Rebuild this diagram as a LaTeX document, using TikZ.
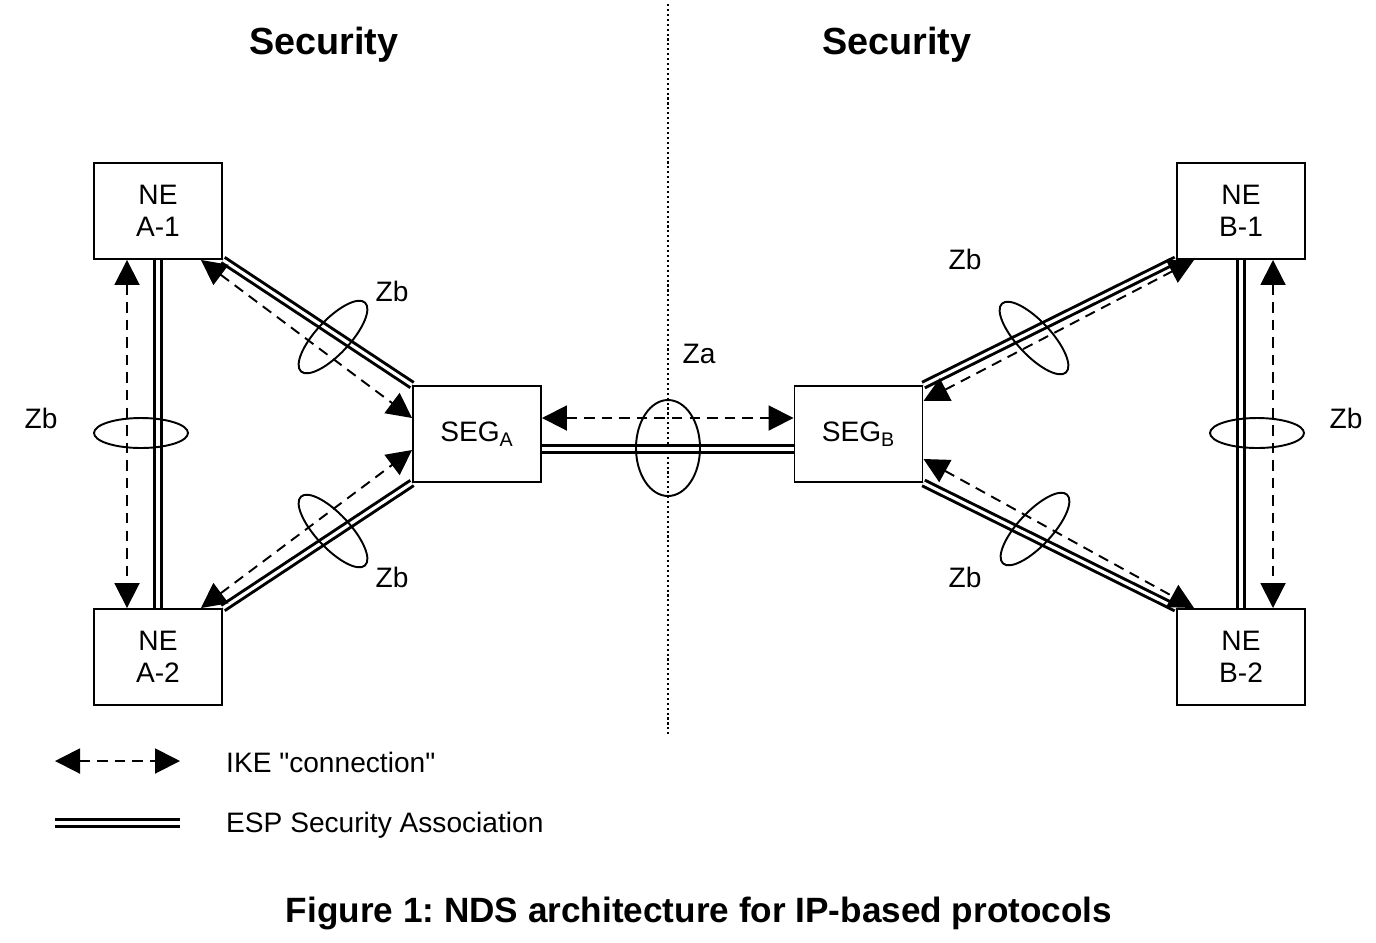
\documentclass[tikz,border=0pt]{standalone}
\usepackage{fontspec}
\setmainfont{Liberation Sans}
\usepackage{tikz}
\usetikzlibrary{arrows.meta, calc}
\frenchspacing

\tikzset{
    box/.style={draw, line width=1.1pt, minimum width=2.56cm, minimum height=1.92cm, align=center, font=\fontsize{16}{18.5}\selectfont},
    ike/.style={line width=1.1pt, dash pattern=on 6pt off 4pt, {Triangle[length=0.5cm, width=0.5cm]}-{Triangle[length=0.5cm, width=0.5cm]}},
    esp/.style={double, line width=1.7pt, double distance=1.8pt},
    ring/.style={line width=1.1pt},
    lbl/.style={font=\fontsize{16}{18.5}\selectfont},
    head/.style={font=\fontsize{21.5}{25}\bfseries\selectfont}
}

\begin{document}
\begin{tikzpicture}
    \useasboundingbox (0,0) rectangle (27.52,-18.84);
    % Domain border
    \draw [line width=1pt, dash pattern=on 1.2pt off 1.6pt] (13.36,-0.08) -- (13.36,-14.70);
    \node[head] (secA) at (6.48,-0.90) {Security};
    \node[head] (secB) at (17.94,-0.90) {Security};
    % Network elements and gateways
    \node[box] (a1) at (3.16,-4.22) {NE\\A-1};
    \node[box] (a2) at (3.16,-13.14) {NE\\A-2};
    \node[box] (sega) at (9.54,-8.68) {SEG\textsubscript{A}};
    \node[box] (segb) at (17.17,-8.68) {SEG\textsubscript{B}};
    \node[box] (b1) at (24.82,-4.22) {NE\\B-1};
    \node[box] (b2) at (24.82,-13.14) {NE\\B-2};
    % ESP security associations
    \draw [esp] (a1.south) -- (a2.north);
    \draw [esp] (a1.south east) -- (sega.north west);
    \draw [esp] (a2.north east) -- (sega.south west);
    \draw [esp] ([yshift=-0.3cm]sega.east) -- ([yshift=-0.3cm]segb.west);
    \draw [esp] (segb.north east) -- (b1.south west);
    \draw [esp] (segb.south east) -- (b2.north west);
    \draw [esp] (b1.south) -- (b2.north);
    % IKE connections
    \draw [ike] ([xshift=-0.62cm]a1.south) -- ([xshift=-0.62cm]a2.north);
    \draw [ike] ([xshift=-0.44cm]a1.south east) -- ([yshift=0.32cm]sega.west);
    \draw [ike] ([xshift=-0.44cm]a2.north east) -- ([yshift=-0.32cm]sega.west);
    \draw [ike] ([yshift=0.32cm]sega.east) -- ([yshift=0.32cm]segb.west);
    \draw [ike] ([yshift=0.66cm]segb.east) -- ([xshift=0.36cm]b1.south west);
    \draw [ike] ([yshift=-0.5cm]segb.east) -- ([xshift=0.36cm]b2.north west);
    \draw [ike] ([xshift=0.64cm]b1.south) -- ([xshift=0.64cm]b2.north);
    % Interface rings
    \draw [ring] (2.82,-8.66) ellipse (0.94 and 0.30);
    \draw [ring, shift={(6.66,-6.74)}, rotate=47] (0,0) ellipse (0.94 and 0.34);
    \draw [ring, shift={(6.66,-10.62)}, rotate=-47] (0,0) ellipse (0.94 and 0.34);
    \draw [ring] (13.36,-8.96) ellipse (0.64 and 0.96);
    \draw [ring, shift={(20.68,-6.76)}, rotate=-47] (0,0) ellipse (0.94 and 0.34);
    \draw [ring, shift={(20.70,-10.58)}, rotate=47] (0,0) ellipse (0.94 and 0.34);
    \draw [ring] (25.14,-8.66) ellipse (0.94 and 0.30);
    \node[lbl] (zbA) at (0.82,-8.36) {Zb};
    \node[lbl] (zbA1) at (7.84,-5.82) {Zb};
    \node[lbl] (zbA2) at (7.84,-11.54) {Zb};
    \node[lbl] (za) at (13.98,-7.08) {Za};
    \node[lbl] (zbB1) at (19.30,-5.18) {Zb};
    \node[lbl] (zbB2) at (19.30,-11.54) {Zb};
    \node[lbl] (zbB) at (26.92,-8.36) {Zb};
    % Legend
    \coordinate (ikeL) at (1.10,-15.22);
    \coordinate (ikeR) at (3.60,-15.22);
    \coordinate (espL) at (1.10,-16.46);
    \coordinate (espR) at (3.60,-16.46);
    \draw [ike] (ikeL) -- (ikeR);
    \draw [esp] (espL) -- (espR);
    \node[lbl, anchor=west] (ikeText) at (4.40,-15.24) {IKE \textquotedbl connection\textquotedbl};
    \node[lbl, anchor=west] (espText) at (4.40,-16.50) {ESP Security Association};
    % Caption
    \node[font=\fontsize{20}{24}\bfseries\selectfont] (caption) at (13.98,-18.26) {Figure 1: NDS architecture for IP-based protocols};
\end{tikzpicture}
\end{document}
